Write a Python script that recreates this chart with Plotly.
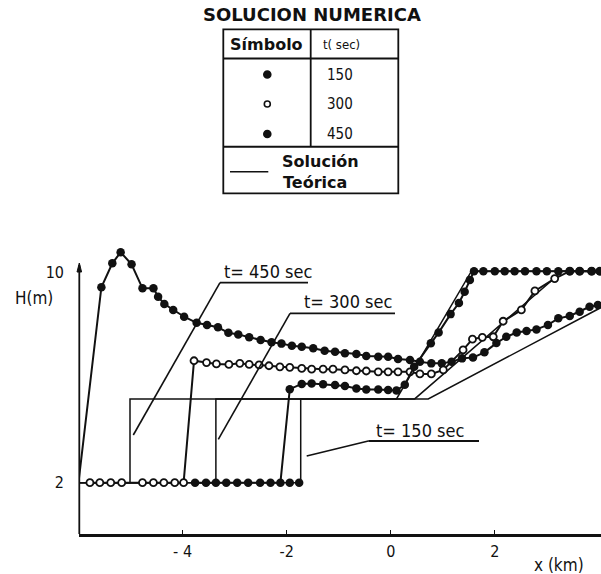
import plotly.graph_objects as go

# ---------------- numerical solution (x in km, H in m) ----------------
# t = 450 s (filled dots)
x450 = [-6.00, -5.56, -5.35, -5.19, -4.98, -4.77, -4.56, -4.47, -4.35, -4.18,
        -3.97, -3.73, -3.53, -3.32, -3.12, -2.93, -2.72, -2.50, -2.29, -2.10,
        -1.90, -1.71, -1.49, -1.27, -1.07, -0.88, -0.66, -0.47, -0.24, -0.05,
        0.14, 0.37, 0.56, 0.78, 0.98, 1.17, 1.37, 1.58, 1.80, 2.03,
        2.22, 2.42, 2.61, 2.80, 3.02, 3.22, 3.44, 3.63, 3.82, 3.98]
h450 = [2.00, 9.42, 10.33, 10.75, 10.29, 9.38, 9.38, 9.06, 8.78, 8.56,
        8.30, 8.07, 7.99, 7.90, 7.69, 7.63, 7.52, 7.42, 7.33, 7.28,
        7.20, 7.16, 7.10, 7.01, 6.97, 6.91, 6.89, 6.81, 6.78, 6.78,
        6.70, 6.66, 6.59, 6.53, 6.53, 6.59, 6.72, 6.75, 6.95, 7.30,
        7.54, 7.70, 7.76, 7.82, 7.99, 8.24, 8.33, 8.49, 8.68, 8.75]

# t = 300 s (open dots)
x300 = [-5.78, -5.59, -5.38, -5.17, -4.77, -4.56, -4.36, -4.15, -3.98,
        -3.78, -3.54, -3.35, -3.11, -2.90, -2.72, -2.53, -2.34, -2.13, -1.94,
        -1.71, -1.52, -1.30, -1.11, -0.88, -0.66, -0.47, -0.24, -0.05, 0.14,
        0.37, 0.56, 0.78, 1.01, 1.39, 1.57, 1.76, 1.97, 2.16, 2.51,
        2.77, 3.15, 3.44, 3.63, 3.86, 4.02]
h300 = [2.00, 2.00, 2.00, 2.00, 2.00, 2.00, 2.00, 2.00, 2.00,
        6.63, 6.56, 6.51, 6.49, 6.53, 6.49, 6.47, 6.44, 6.40, 6.38,
        6.34, 6.31, 6.31, 6.31, 6.28, 6.25, 6.24, 6.21, 6.21, 6.21,
        6.21, 6.13, 6.13, 6.28, 7.04, 7.45, 7.52, 7.54, 8.13, 8.56,
        9.28, 9.75, 10.03, 10.03, 10.03, 10.03]

# t = 150 s (filled dots)
x150 = [-3.76, -3.55, -3.36, -3.16, -2.95, -2.74, -2.51, -2.31, -2.12,
        -1.94, -1.71, -1.52, -1.30, -1.07, -0.88, -0.66, -0.47, -0.24, -0.05,
        0.11, 0.27, 0.45, 0.77, 0.92, 1.15, 1.31, 1.42, 1.52, 1.60,
        1.78, 2.00, 2.19, 2.38, 2.58, 2.80, 3.00, 3.22, 3.44, 3.63, 3.86, 4.02]
h150 = [2.00, 2.00, 2.00, 2.00, 2.00, 2.00, 2.00, 2.00, 2.00,
        5.55, 5.75, 5.77, 5.74, 5.71, 5.67, 5.58, 5.54, 5.54, 5.52,
        5.50, 5.72, 6.40, 7.29, 7.70, 8.40, 8.82, 9.25, 9.70, 10.03,
        10.03, 10.03, 10.03, 10.03, 10.03, 10.03, 10.03, 10.03, 10.03, 10.03, 10.03, 10.03]
# t = 150 s points still on the undisturbed level ahead of the jump
x150_front = [-1.94, -1.76]
h150_front = [2.00, 2.00]

# ---------------- theoretical solution (breakpoints) ----------------
xt150 = [-6.00, -1.73, -1.73, 0.11, 1.55, 4.04]
ht150 = [2.00, 2.00, 5.18, 5.18, 10.03, 10.03]
xt300 = [-6.00, -3.36, -3.36, 0.46, 3.30, 4.04]
ht300 = [2.00, 2.00, 5.18, 5.18, 10.03, 10.03]
xt450 = [-6.00, -5.01, -5.01, 0.72, 4.04]
ht450 = [2.00, 2.00, 5.18, 5.18, 8.65]

# axis ticks
xtick_vals = [-4, -2, 0, 2]
xtick_text = ["- 4", "-2", "0", "2"]
ytick_vals = [2, 10]
ytick_text = ["2", "10"]

# legend table content
legend_times = ["150", "300", "450"]
legend_filled = [True, False, True]

# ---------------- page geometry ----------------
W, H = 601, 574
ML, MR, MT, MB = 79, 0, 240, 40
PW, PH = W - ML - MR, H - MT - MB


def pxx(p):
    return (p - ML) / PW


def pxy(p):
    return (H - MB - p) / PH


NARROW = "Liberation Sans Narrow, DejaVu Sans Condensed, Liberation Sans, sans-serif"
WIDE = "DejaVu Sans, Liberation Sans, sans-serif"
INK = "#111111"

fig = go.Figure()

for xs, hs in [(xt450, ht450), (xt300, ht300), (xt150, ht150)]:
    fig.add_trace(go.Scatter(x=xs, y=hs, mode="lines",
                             line=dict(color=INK, width=1.5),
                             showlegend=False, hoverinfo="skip", cliponaxis=False))

fig.add_trace(go.Scatter(x=x450, y=h450, mode="lines+markers", name="450",
                         line=dict(color=INK, width=2),
                         marker=dict(size=8.5, color=INK, symbol="circle"),
                         showlegend=False, cliponaxis=False))
fig.add_trace(go.Scatter(x=x300, y=h300, mode="lines+markers", name="300",
                         line=dict(color=INK, width=2),
                         marker=dict(size=7, color="white", symbol="circle",
                                     line=dict(color=INK, width=1.8)),
                         showlegend=False, cliponaxis=False))
fig.add_trace(go.Scatter(x=x150, y=h150, mode="lines+markers", name="150",
                         line=dict(color=INK, width=2),
                         marker=dict(size=8.5, color=INK, symbol="circle"),
                         showlegend=False, cliponaxis=False))
fig.add_trace(go.Scatter(x=x150_front, y=h150_front, mode="markers", name="150",
                         marker=dict(size=8.5, color=INK, symbol="circle"),
                         showlegend=False, cliponaxis=False))

shapes = []
annotations = []


def seg(x0, y0, x1, y1, w=1.6):
    shapes.append(dict(type="line", xref="paper", yref="paper",
                       x0=pxx(x0), y0=pxy(y0), x1=pxx(x1), y1=pxy(y1),
                       line=dict(color=INK, width=w)))


def label(txt, x, y, size, family=NARROW, xanchor="center"):
    annotations.append(dict(text=txt, xref="paper", yref="paper",
                            x=pxx(x), y=pxy(y), xanchor=xanchor, yanchor="middle",
                            showarrow=False,
                            font=dict(family=family, size=size, color=INK)))


# vertical axis with small arrow head
seg(79.3, 534, 79.3, 265, 1.8)
shapes.append(dict(type="path", xref="paper", yref="paper",
                   path="M {} {} L {} {} L {} {} Z".format(
                       pxx(77), pxy(272), pxx(79.3), pxy(263), pxx(81.6), pxy(272)),
                   fillcolor=INK, line=dict(color=INK, width=1)))

# time labels with leaders
seg(220, 282.7, 308, 282.7, 1.8)
seg(220, 282.7, 133.3, 435, 1.6)
label("t= 450 sec", 222, 271, 18, xanchor="left")

seg(290, 313.3, 395, 313.3, 1.8)
seg(290, 313.3, 218.3, 439.3, 1.6)
label("t= 300 sec", 302, 301, 18, xanchor="left")

seg(368.3, 441, 479, 441, 1.8)
seg(368.3, 441, 306.7, 456, 1.6)
label("t= 150 sec", 374, 430, 18, xanchor="left")

# axis titles
label("H(m)", 34, 298, 17)
label("x (km)", 559, 565, 17)

# legend table
label("<b>SOLUCION NUMERICA</b>", 311.7, 14, 18, family=WIDE)
shapes.append(dict(type="rect", xref="paper", yref="paper",
                   x0=pxx(223.3), x1=pxx(398.3), y0=pxy(193.3), y1=pxy(29.3),
                   line=dict(color=INK, width=1.8)))
seg(310.7, 29.3, 310.7, 146.7, 1.8)
seg(223.3, 58.5, 398.3, 58.5, 2.2)
seg(223.3, 146.7, 398.3, 146.7, 2.0)
label("<b>Símbolo</b>", 266.7, 44.3, 16, family=WIDE)
label("t( sec)", 341.7, 44.3, 13)

row_y = [74.5, 104, 134]
for t, filled, yy in zip(legend_times, legend_filled, row_y):
    r = 3.5 if filled else 3.0
    shapes.append(dict(type="circle", xref="paper", yref="paper",
                       x0=pxx(267.3 - r), x1=pxx(267.3 + r),
                       y0=pxy(yy + r), y1=pxy(yy - r),
                       fillcolor=INK if filled else "white",
                       line=dict(color=INK, width=1.6)))
    label(t, 340, yy, 15)

seg(230, 171.7, 268.3, 171.7, 1.6)
label("<b>Solución</b>", 320, 161.7, 16, family=WIDE)
label("<b>Teórica</b>", 315, 182.7, 16, family=WIDE)

fig.update_layout(
    width=W, height=H,
    margin=dict(l=ML, r=MR, t=MT, b=MB, autoexpand=False),
    paper_bgcolor="white", plot_bgcolor="white",
    showlegend=False,
    shapes=shapes, annotations=annotations,
    xaxis=dict(range=[-5.99, 4.04], showgrid=False, zeroline=False,
               showline=True, linecolor=INK, linewidth=2.6,
               ticks="inside", ticklen=4, tickwidth=1.4, tickcolor=INK,
               tickvals=xtick_vals, ticktext=xtick_text,
               tickfont=dict(family=NARROW, size=16, color=INK),
               ticklabelstandoff=1, fixedrange=True),
    yaxis=dict(range=[0.052, 11.214], showgrid=False, zeroline=False,
               showline=False, ticks="",
               tickvals=ytick_vals, ticktext=ytick_text,
               tickfont=dict(family=NARROW, size=16, color=INK),
               ticklabelstandoff=14, fixedrange=True),
)

fig.write_html("out.html")
